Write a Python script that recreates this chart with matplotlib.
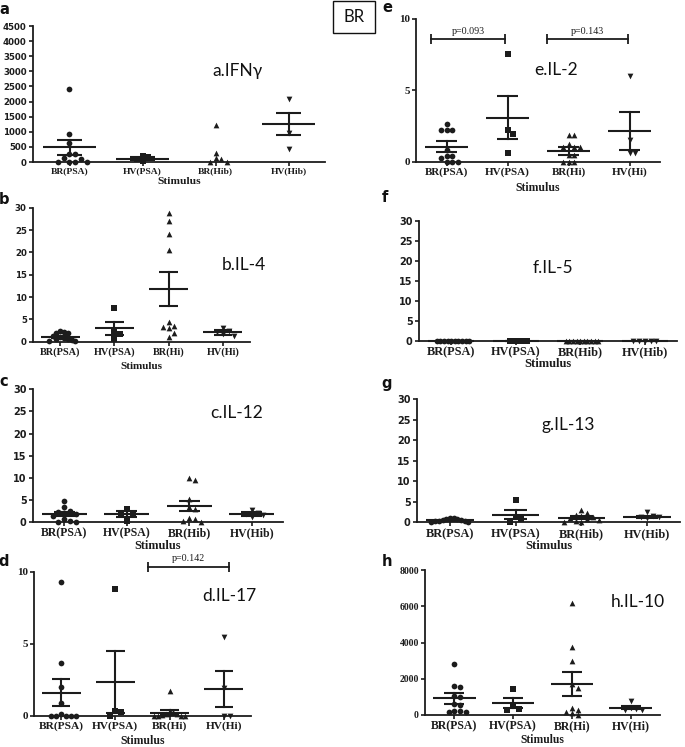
import numpy as np
import matplotlib
matplotlib.use("Agg")
import matplotlib.pyplot as plt
from matplotlib.patches import Rectangle

# ---------------- data ----------------
GROUPS_HIB = ["BR(PSA)", "HV(PSA)", "BR(Hib)", "HV(Hib)"]
GROUPS_HI = ["BR(PSA)", "HV(PSA)", "BR(Hi)", "HV(Hi)"]

ifng_vals = [[2430, 925, 620, 270, 255, 125, 100, 0, 0, 0, 0],
             [210, 160, 110, 30],
             [1220, 305, 120, 90, 0, 0],
             [2100, 950, 440]]
ifng_mean = [480, 115, None, 1260]
ifng_sem = [235, 45, None, 375]

il4_vals = [[2.4, 2.2, 2.0, 1.9, 1.3, 1.0, 0.8, 0.6, 0.5, 0.4, 0.2, 0.1],
            [7.5, 2.2, 1.8, 0.6],
            [28.8, 27.0, 24.2, 20.5, 4.5, 3.6, 3.3, 3.0, 1.9, 1.0],
            [3.0, 2.5, 2.1, 1.7, 1.3]]
il4_mean = [1.0, 3.05, 11.8, 2.1]
il4_sem = [0.25, 1.45, 3.7, 0.5]

il12_vals = [[4.7, 3.3, 2.4, 2.2, 2.0, 1.8, 1.4, 0.6, 0.3, 0.1, 0.05],
             [3.0, 2.1, 1.8, 0.3],
             [9.9, 9.5, 5.2, 3.4, 2.9, 0.8, 0.6, 0.3, 0.0],
             [2.7, 2.0, 1.8, 1.5, 1.2]]
il12_mean = [1.75, 1.8, 3.6, 1.8]
il12_sem = [0.45, 0.65, 1.2, 0.35]

il17_vals = [[9.3, 3.64, 2.0, 0.85, 0.1, 0, 0, 0, 0, 0],
             [8.8, 0.32, 0.28, 0],
             [1.75, 0.35, 0.25, 0.15, 0.1, 0.05, 0, 0, 0, 0],
             [5.5, 1.9, 0, 0]]
il17_mean = [1.6, 2.35, 0.22, 1.85]
il17_sem = [0.93, 2.14, 0.16, 1.28]

il2_vals = [[2.65, 2.2, 2.2, 2.2, 0.85, 0.42, 0.4, 0.25, 0, 0, 0],
            [7.55, 2.25, 1.95, 0.6],
            [1.9, 1.9, 1.25, 1.0, 1.0, 1.0, 0.45, 0.45, 0, 0, 0],
            [6.0, 1.5, 0.6, 0.6]]
il2_mean = [1.05, 3.08, 0.77, 2.15]
il2_sem = [0.38, 1.52, 0.27, 1.3]

il5_vals = [[0, 0, 0, 0, 0, 0, 0, 0, 0, 0],
            [0, 0, 0, 0],
            [0, 0, 0, 0, 0, 0, 0, 0, 0, 0],
            [0, 0, 0, 0, 0]]
il5_mean = [0, 0, 0, 0]
il5_sem = [0, 0, 0, 0]

il13_vals = [[1.1, 1.0, 0.9, 0.7, 0.6, 0.5, 0.4, 0.3, 0.2, 0.1, 0.1],
             [5.4, 1.3, 0.7, 0.1],
             [3.1, 2.2, 1.8, 1.5, 1.2, 1.0, 0.8, 0.5, 0.2, 0.0, 0.0],
             [2.5, 1.5, 1.3, 1.2, 1.0]]
il13_mean = [0.5, 1.87, 1.13, 1.38]
il13_sem = [0.12, 1.1, 0.3, 0.25]

il10_vals = [[2800, 1620, 1520, 1050, 1000, 600, 550, 200, 200, 150, 150],
             [1430, 560, 320, 300],
             [6200, 3750, 3000, 1700, 1500, 400, 300, 150, 100, 0],
             [750, 400, 350, 300, 250]]
il10_mean = [920, 650, 1730, 405]
il10_sem = [300, 280, 660, 90]

yticks_0_30 = [0, 5, 10, 15, 20, 25, 30]
yticks_ifng = [0, 500, 1000, 1500, 2000, 2500, 3000, 3500, 4000, 4500]
yticks_il17 = [0, 5, 10]
yticks_il2 = [0, 5, 10]
yticks_il10 = [0, 2000, 4000, 6000, 8000]

il4_brackets = [(-0.19, 0.97, 24.9, "p=0.093"), (2.28, 3.61, 24.9, "p=0.018")]
il17_brackets = [(1.60, 3.09, 10.35, "p=0.142")]
il2_brackets = [(-0.25, 0.96, 8.6, "p=0.093"), (1.65, 2.98, 8.6, "p=0.143")]

# ---------------- drawing ----------------
W, H = 685, 747
fig = plt.figure(figsize=(W / 100, H / 100), dpi=100)
INK = "#1c1c1c"
MARKERS = ["o", "s", "^", "v"]


def px_axes(l, r, t, b):
    return fig.add_axes([l / W, 1 - b / H, (r - l) / W, (b - t) / H])


def swarm(ax, xc, vals, diam, maxhalf):
    vals = np.asarray(vals, float)
    pts = ax.transData.transform(np.column_stack([np.full(len(vals), xc), vals]))
    y = pts[:, 1]
    x0 = pts[0, 0]
    order = np.argsort(-vals, kind="stable")
    offs = np.zeros(len(vals))
    placed = []
    step = diam * 1.05
    for i in order:
        k = 0
        found = None
        while found is None:
            cands = [0.0] if k == 0 else [k * step, -k * step]
            for c in cands:
                if all((c - px) ** 2 + (y[i] - py) ** 2 >= (diam * 0.98) ** 2 for px, py in placed):
                    found = c
                    break
            k += 1
        offs[i] = found
        placed.append((found, y[i]))
    m = np.max(np.abs(offs))
    if m > maxhalf:
        offs *= maxhalf / m
    return ax.transData.inverted().transform(np.column_stack([x0 + offs, y]))[:, 0]


def panel(box, vals, means, sems, groups, ylim, yticks, tick_font, tick_size,
          xlab_size, stim_size, stim_dy, title, tpos, letter, lpos, brackets=None):
    ax = px_axes(*box)
    ax.set_xlim(-0.5, 3.5)
    ax.set_ylim(*ylim)
    for s in ["top", "right"]:
        ax.spines[s].set_visible(False)
    for s in ["left", "bottom"]:
        ax.spines[s].set_linewidth(1.3)
        ax.spines[s].set_color(INK)
    ax.set_yticks(yticks)
    ax.set_xticks(range(4))
    ax.set_xticklabels(groups, fontfamily="Liberation Serif", fontweight="bold",
                       fontsize=xlab_size, color=INK)
    if tick_font == "sans":
        ax.set_yticklabels([str(t) for t in yticks], fontfamily="DejaVu Sans",
                           fontweight="bold", fontsize=tick_size, color=INK)
    else:
        ax.set_yticklabels([str(t) for t in yticks], fontfamily="Liberation Serif",
                           fontweight="bold", fontsize=tick_size, color=INK)
    ax.tick_params(axis="both", length=3, width=1.2, color=INK, pad=1.5)
    ax.tick_params(axis="x", pad=1.0)
    ax.patch.set_alpha(0)

    bw = (box[1] - box[0]) / 4.0
    for i in range(4):
        xs = swarm(ax, i, vals[i], 5.5, bw * 0.28)
        ax.scatter(xs, vals[i], marker=MARKERS[i], s=17, color=INK,
                   linewidths=0, zorder=3, clip_on=False)
        if means[i] is not None:
            ax.plot([i - 0.36, i + 0.36], [means[i], means[i]], color=INK,
                    lw=1.5, zorder=4, clip_on=False, solid_capstyle="butt")
            lo, hi = means[i] - sems[i], means[i] + sems[i]
            ax.plot([i, i], [lo, hi], color=INK, lw=1.5, zorder=4, clip_on=False)
            for yy in (lo, hi):
                ax.plot([i - 0.17, i + 0.17], [yy, yy], color=INK, lw=1.5,
                        zorder=4, clip_on=False, solid_capstyle="butt")

    if brackets:
        for x0, x1, yb, lab in brackets:
            ax.plot([x0, x1], [yb, yb], color=INK, lw=1.3, clip_on=False,
                    marker="|", markersize=6.5, markeredgewidth=1.3)
            ax.annotate(lab, ((x0 + x1) / 2, yb), xytext=(0, 2.5),
                        textcoords="offset points", ha="center", va="bottom",
                        fontfamily="Liberation Serif", fontsize=7.2, color=INK,
                        annotation_clip=False)

    ax.annotate("Stimulus", (0.5, 0), xycoords="axes fraction",
                xytext=(0, -stim_dy), textcoords="offset pixels",
                ha="center", va="center", fontfamily="Liberation Serif",
                fontweight="bold", fontsize=stim_size, color=INK)
    ax.text(tpos[0], tpos[1], title, transform=ax.transAxes, ha="center",
            va="center", fontfamily=["Lato", "DejaVu Sans"], fontsize=12.5,
            color="#111111", clip_on=False)
    fig.text(lpos[0] / W, 1 - lpos[1] / H, letter, ha="center", va="center",
             fontfamily="DejaVu Sans", fontweight="bold", fontsize=10.5,
             color="#111111")
    return ax


panel((33, 325, 26, 162), ifng_vals, ifng_mean, ifng_sem, GROUPS_HIB,
      (0, 4500), yticks_ifng, "sans", 6.2, 6.8, 8.2, 20,
      "a.IFNγ", (0.70, 0.67), "a", (4, 9))
panel((33, 250, 207.7, 341.7), il4_vals, il4_mean, il4_sem, GROUPS_HI,
      (0, 30), yticks_0_30, "sans", 6.2, 7.4, 8.0, 25,
      "b.IL-4", (0.97, 0.57), "b", (4, 200))
panel((33, 283, 389.3, 522), il12_vals, il12_mean, il12_sem, GROUPS_HIB,
      (0, 30), yticks_0_30, "sans", 7.0, 8.5, 8.8, 24,
      "c.IL-12", (0.816, 0.82), "c", (4, 381))
panel((34, 251, 571.7, 715.7), il17_vals, il17_mean, il17_sem, GROUPS_HI,
      (0, 10), yticks_il17, "serif", 8.0, 8.2, 8.5, 25,
      "d.IL-17", (0.90, 0.83), "d", (4, 562), il17_brackets)
panel((416, 660, 19, 161.7), il2_vals, il2_mean, il2_sem, GROUPS_HI,
      (0, 10), yticks_il2, "serif", 8.0, 7.9, 8.5, 26,
      "e.IL-2", (0.574, 0.64), "e", (387, 7), il2_brackets)
panel((419, 677, 221, 340.7), il5_vals, il5_mean, il5_sem, GROUPS_HIB,
      (0, 30), yticks_0_30, "sans", 7.0, 8.8, 9.0, 23,
      "f.IL-5", (0.52, 0.61), "f", (385, 198))
panel((417, 680, 399, 522.3), il13_vals, il13_mean, il13_sem, GROUPS_HIB,
      (0, 30), yticks_0_30, "sans", 7.0, 8.8, 9.0, 24,
      "g.IL-13", (0.574, 0.79), "g", (387, 384))
panel((425, 660, 570, 715), il10_vals, il10_mean, il10_sem, GROUPS_HI,
      (0, 8000), yticks_il10, "serif", 7.0, 8.5, 8.3, 25,
      "h.IL-10", (0.906, 0.78), "h", (387, 562))

# "BR" box
fig.patches.append(Rectangle((333 / W, 1 - 33 / H), 42 / W, 32 / H,
                             transform=fig.transFigure, fill=False,
                             edgecolor="#111111", linewidth=1.0))
fig.text(354 / W, 1 - 17.5 / H, "BR", ha="center", va="center",
         fontfamily=["Lato", "DejaVu Sans"], fontsize=12, color="#111111")

fig.savefig("out.png", dpi=100, facecolor="white")
